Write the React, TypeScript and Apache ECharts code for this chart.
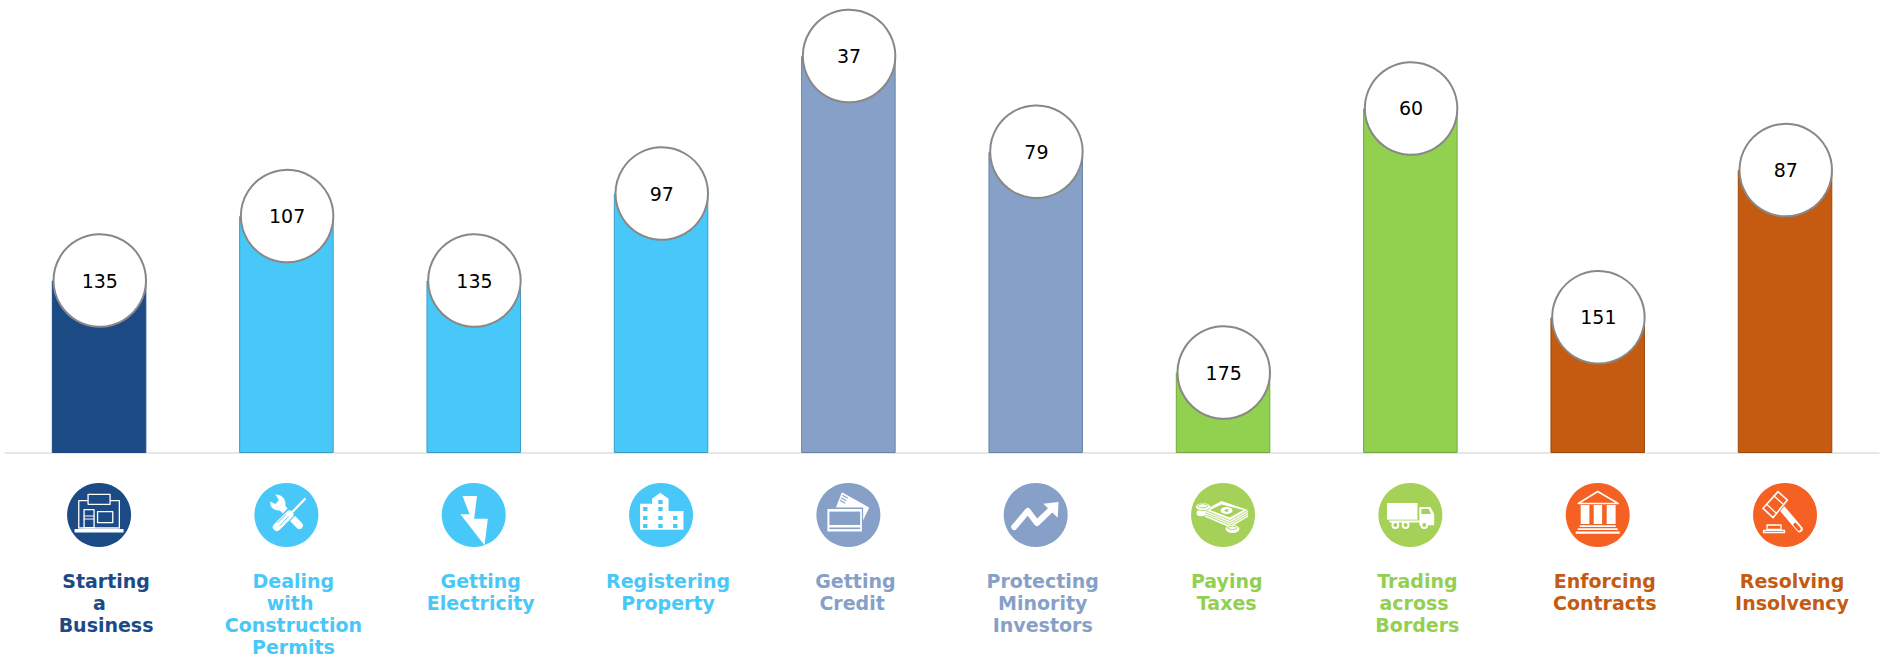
import React, { useEffect, useRef } from "react";
import * as echarts from "echarts";

const categories = ["Starting a Business", "Dealing with Construction Permits", "Getting Electricity", "Registering Property", "Getting Credit", "Protecting Minority Investors", "Paying Taxes", "Trading across Borders", "Enforcing Contracts", "Resolving Insolvency"];
const tickLabels = ["Starting\na  \nBusiness", "Dealing\nwith \nConstruction\nPermits", "Getting\nElectricity", "Registering\nProperty", "Getting\nCredit ", "Protecting\nMinority\nInvestors", "Paying \nTaxes ", "Trading\nacross \nBorders", "Enforcing\nContracts", "Resolving\nInsolvency"];
const ranks = [135, 107, 135, 97, 37, 79, 175, 60, 151, 87];
const barHeights = [75, 103, 75, 112.8, 172.6, 131, 35, 149.8, 59, 123];
const barColors = ["#1B4A85", "#48C8F8", "#48C8F8", "#48C8F8", "#86A0C8", "#86A0C8", "#92D050", "#92D050", "#C55A11", "#C55A11"];
const barBorders = ["#1B4A85", "#3A9CC4", "#3A9CC4", "#3A9CC4", "#6A80A4", "#6A80A4", "#74A640", "#74A640", "#9D480D", "#9D480D"];
const iconColors = ["#1B4A85", "#48C8F8", "#48C8F8", "#48C8F8", "#86A0C8", "#86A0C8", "#A5D158", "#A5D158", "#F56023", "#F56023"];

const r = (x: number, y: number, w: number, h: number) => `M${x} ${y}H${x + w}V${y + h}H${x}Z`;
const c = (x: number, y: number, rad: number, ry = rad) => `M${x - rad} ${y}A${rad} ${ry} 0 1 1 ${x + rad} ${y}A${rad} ${ry} 0 1 1 ${x - rad} ${y}Z`;

// kind: f white fill, h background fill, s white stroke, k background stroke
type Part = [string, string, number?];
const icons: Part[][] = [
  [
    ["f", r(7.5, 46, 49, 3.6)],
    ["s", r(11.7, 17.7, 40.6, 27.3), 1.3],
    ["h", r(21, 11.3, 22, 10)],
    ["s", r(21, 11.3, 22, 10), 1.3],
    ["s", r(17, 26.7, 10, 18), 1.3],
    ["s", "M17 33H27M17 36H27", 1],
    ["s", r(30.5, 28.7, 15.2, 11), 1.3],
  ],
  [
    ["f", "M21 11.5L24.5 17L21 21L16 18.5C15 23 19 28 25.5 27.5L31 22.5C32 16 27 11 21 11.5Z"],
    ["s", "M28 25L45 42.5", 7],
    ["k", "M38.5 27.5L22 44.5", 10.5],
    ["s", "M50.5 16L37 30", 2.2],
    ["s", "M35 31.5L22.5 44", 8],
    ["k", "M31.5 31.5L23 40M34 33.5L25.5 42.5", 0.9],
  ],
  [["f", "M20.8 13H35.3L32.4 35.7H46.1L42.8 62.3L18.7 31.3H27.9Z"]],
  [
    ["f", "M11 20.7H23V15.7L31.2 9.7L39.5 15.7V28H54.4V46.7H11Z"],
    ...[[14, 24], [14, 33], [14, 41], [29.2, 17], [29.2, 24], [29.2, 33], [29.2, 41], [44, 33], [44, 41]].map(([x, y]) => ["h", r(x, y, 4.4, 4)] as Part),
  ],
  [
    ["f", "M25.5 9.3L52.8 24.6L45.5 40V26H19Z"],
    ["k", "M25 15L29.5 17.5M24 17.5L28.5 20M26.5 12.5L31 15", 1.1],
    ["k", r(10.5, 25.2, 35.5, 24), 1.5],
    ["f", r(11, 26, 34.5, 22.6)],
    ["h", r(13, 28.6, 30.8, 13.4)],
    ["h", r(13, 44.5, 30.8, 1.6)],
  ],
  [
    ["s", "M10.5 44L24.1 28L33.2 40L47.8 26", 6],
    ["f", "M39.5 20.7L54.8 19L54 34.7Z"],
  ],
  [
    ["f", "M13.8 27L30.5 18L57 27V33.7L39 44.5L13.8 33.7Z"],
    ["k", "M13.8 29.5L39 40L57 29.5", 0.8],
    ["k", "M13.8 31.7L39 42.3L57 31.7", 0.8],
    ["k", "M13.8 27.2L39 37.5L57 27.2", 0.8],
    ["h", "M19 27L30.5 21.5L52.5 27L38.5 34.5Z"],
    ["f", c(35.5, 27.5, 6, 3.6)],
    ["h", c(35.5, 27.5, 2, 1.3)],
    ["f", c(10, 30, 4.5, 3.2)],
    ["f", c(12, 24, 7.3, 4)],
    ["k", c(12, 22.8, 5, 2), 0.9],
    ["k", "M4.7 25C7 28.5 17 28.5 19.3 25", 0.8],
    ["f", c(41.5, 46, 7, 4)],
    ["k", c(41.5, 44.8, 4.6, 1.7), 0.9],
  ],
  [
    ["f", r(8.6, 20, 30.5, 16.7)],
    ["f", r(11, 37.5, 34, 2)],
    ["f", "M41 24H52L55.8 31V42.3H41Z"],
    ["h", "M43 26H50.5L52.5 31H43Z"],
    ["f", c(17, 42, 3.9)],
    ["h", c(17, 42, 2)],
    ["f", c(27.2, 42, 3.9)],
    ["h", c(27.2, 42, 2)],
    ["f", c(45.9, 42, 3.9)],
    ["h", c(45.9, 42, 2)],
  ],
  [
    ["s", "M12.5 20.5L32 8.5L52.5 20.5Z", 1.5],
    ["f", r(15, 22, 8.7, 19)],
    ["f", r(28, 22, 8.4, 19)],
    ["f", r(41, 22, 8.9, 19)],
    ["f", r(14, 42.2, 36, 1.8)],
    ["f", r(12, 45.3, 40, 1.8)],
    ["f", r(10, 48.6, 44, 2.2)],
  ],
  [
    ["s", "M29.5 26L46.5 46", 6.5],
    ["k", "M42 41.5L46 46", 3.4],
    ["k", "M10 25.3L25 8.6L34.3 17L20 34.7Z", 3],
    ["s", "M10 25.3L25 8.6L34.3 17L20 34.7Z", 1.6],
    ["s", "M14 21.5L23.5 30.5M21 13L30.5 21.5", 1.3],
    ["s", r(14, 42, 14, 4.5), 1.3],
    ["s", r(10.5, 47.5, 21, 2.2), 1.3],
  ],
];

icons.forEach((parts, i) =>
  parts.forEach((p, j) => {
    echarts.graphic.registerShape(`icon${i}_${j}`, echarts.graphic.extendPath(p[1], {}));
  })
);

export default function App() {
  const ref = useRef<HTMLDivElement>(null);
  useEffect(() => {
    const chart = echarts.init(ref.current!, undefined, { renderer: "svg" });
    chart.setOption({
      animation: false,
      backgroundColor: "#fff",
      grid: { left: 5.4, width: 1873.3, top: 16, height: 437, outerBoundsMode: "none" },
      xAxis: {
        type: "category",
        data: categories,
        axisTick: { show: false },
        axisLine: { show: true, lineStyle: { color: "#E6E6E6", width: 2 } },
        axisLabel: {
          interval: 0,
          margin: 117.5,
          hideOverlap: false,
          fontFamily: "DejaVu Sans",
          fontWeight: "bold",
          fontSize: 19,
          lineHeight: 21.85,
          verticalAlign: "top",
          padding: [0, 0, 0, 14],
          formatter: (_: string, i: number) => tickLabels[i],
          color: (_: string, i: number) => barColors[i],
        },
      },
      yAxis: { type: "value", min: 0, max: 190, show: false, splitLine: { show: false } },
      series: [
        {
          type: "bar",
          barWidth: 94.5,
          data: barHeights.map((v, i) => ({
            value: v,
            itemStyle: { color: barColors[i], borderColor: barBorders[i], borderWidth: 1 },
          })),
        },
        {
          type: "scatter",
          symbol: "circle",
          symbolSize: 92.5,
          symbolOffset: [0.7, 0],
          z: 5,
          clip: false,
          data: barHeights.map((v, i) => [i, v, ranks[i]]),
          itemStyle: { color: "#fff", borderColor: "#888", borderWidth: 2, opacity: 1 },
          label: {
            show: true,
            position: "inside",
            formatter: (p: any) => String(p.value[2]),
            color: "#000",
            fontFamily: "DejaVu Sans",
            fontSize: 19,
          },
        },
        {
          type: "custom",
          clip: false,
          silent: true,
          encode: { x: 0, y: 1 },
          data: ranks.map((_, i) => [i, 0]),
          renderItem: (params: any, api: any) => {
            const i = params.dataIndex;
            const [cx, base] = api.coord([api.value(0), 0]);
            const bg = iconColors[i];
            return {
              type: "group",
              x: cx - 32,
              y: base + 30,
              children: [
                { type: "circle", shape: { cx: 32, cy: 32, r: 32 }, style: { fill: bg } },
                ...icons[i].map((p, j) => {
                  const k = p[0];
                  return {
                    type: `icon${i}_${j}`,
                    style: {
                      fill: k === "f" ? "#fff" : k === "h" ? bg : "none",
                      stroke: k === "s" ? "#fff" : k === "k" ? bg : "none",
                      lineWidth: p[2] ?? 0,
                      lineCap: "round",
                      lineJoin: "round",
                    },
                  };
                }),
              ],
            };
          },
        },
      ],
    });
    return () => chart.dispose();
  }, []);
  return <div ref={ref} style={{ position: "absolute", left: 0, top: 0, width: 1880, height: 658 }} />;
}
